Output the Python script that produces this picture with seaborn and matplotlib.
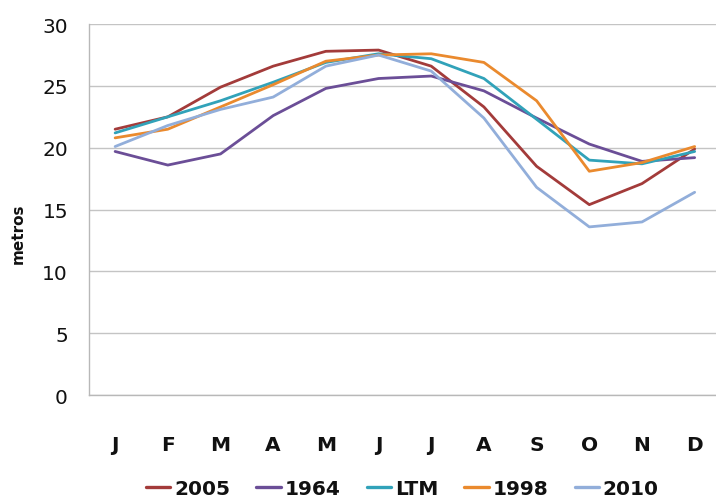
import numpy as np
import pandas as pd
import matplotlib
matplotlib.use('Agg')
import matplotlib.pyplot as plt
import seaborn as sns

# monthly values (metros)
months = ['J', 'F', 'M', 'A', 'M', 'J', 'J', 'A', 'S', 'O', 'N', 'D']
series_names = ['2005', '1964', 'LTM', '1998', '2010']
v2005 = [21.5, 22.5, 24.9, 26.6, 27.8, 27.9, 26.6, 23.3, 18.5, 15.4, 17.1, 19.9]
v1964 = [19.7, 18.6, 19.5, 22.6, 24.8, 25.6, 25.8, 24.6, 22.4, 20.3, 18.9, 19.2]
vLTM = [21.2, 22.5, 23.8, 25.3, 26.9, 27.6, 27.2, 25.6, 22.3, 19.0, 18.7, 19.7]
v1998 = [20.8, 21.5, 23.3, 25.1, 27.0, 27.5, 27.6, 26.9, 23.8, 18.1, 18.8, 20.1]
v2010 = [20.1, 21.8, 23.1, 24.1, 26.6, 27.5, 26.2, 22.4, 16.8, 13.6, 14.0, 16.4]
colors = ['#A33B3A', '#6B4E97', '#31A2B9', '#EA8A2E', '#92AEDA']

df = pd.DataFrame({
    'pos': list(range(12)) * 5,
    'valor': v2005 + v1964 + vLTM + v1998 + v2010,
    'serie': [s for s in series_names for _ in range(12)],
})

sns.set_style('white')
plt.rcParams['font.family'] = ['DejaVu Sans']

fig = plt.figure(figsize=(7.16, 5.02), dpi=100)
# plot area runs a little past the right edge, as in the original
ax = fig.add_axes([0.124, 0.211, 0.883, 0.739])

sns.lineplot(data=df, x='pos', y='valor', hue='serie', hue_order=series_names,
             palette=colors, linewidth=2.0, ax=ax, legend=True)

ax.set_xlim(-0.5, 11.5)
ax.set_ylim(0, 30)
ax.set_yticks([0, 5, 10, 15, 20, 25, 30])
ax.set_xticks(range(12))
ax.set_xticklabels(months, fontsize=14.5, fontweight='bold', color='#111111')
ax.set_xticks(np.arange(-0.5, 12, 1), minor=True)
ax.tick_params(axis='x', which='major', length=0, pad=29)
ax.tick_params(axis='x', which='minor', length=7, width=1, color='#b8b8b8', direction='out')
ax.tick_params(axis='y', length=6, width=1, color='#c4c4c4', labelsize=14.5,
               labelcolor='#111111', pad=9)
ax.yaxis.grid(True, color='#c4c4c4', linewidth=1)
ax.set_axisbelow(True)
for s in ['top', 'right']:
    ax.spines[s].set_visible(False)
for s in ['left', 'bottom']:
    ax.spines[s].set_color('#b8b8b8')
    ax.spines[s].set_linewidth(1)

ax.set_xlabel('')
ax.set_ylabel('')
fig.text(18 / 716, 1 - 234 / 502, 'metros', rotation=90, ha='center', va='center',
         fontsize=11, fontweight='bold', color='#111111')

handles, labels = ax.get_legend_handles_labels()
leg = ax.legend(handles, labels, loc='center left', bbox_to_anchor=(146 / 716, 1 - 490 / 502),
                bbox_transform=fig.transFigure, borderpad=0, borderaxespad=0,
                ncol=5, frameon=False, handlelength=1.2, handletextpad=0.2,
                columnspacing=1.3, prop={'size': 14.5, 'weight': 'bold'})
for t in leg.get_texts():
    t.set_color('#111111')
for h in leg.legend_handles:
    h.set_linewidth(2.4)

fig.savefig('out.png', dpi=100)
